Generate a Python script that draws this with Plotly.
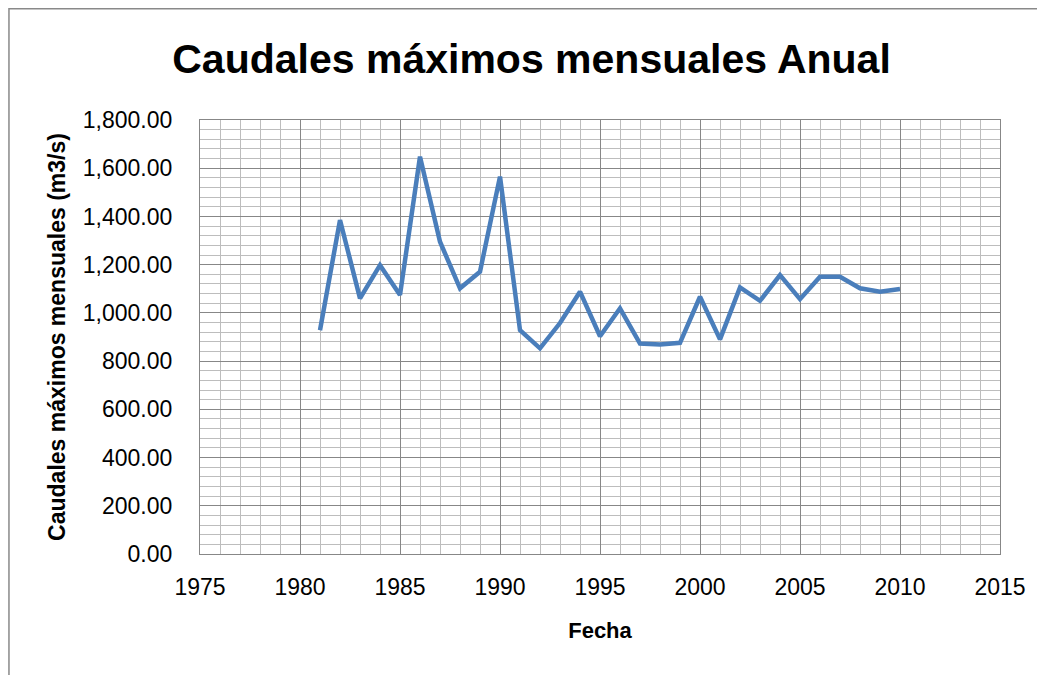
import plotly.graph_objects as go

years = list(range(1981, 2011))
caudales = [928, 1385, 1060, 1198, 1074, 1648, 1295, 1102, 1171, 1565,
            928, 853, 958, 1088, 903, 1019, 873, 869, 876, 1067,
            890, 1106, 1050, 1157, 1057, 1150, 1150, 1102, 1088, 1099]

title_text = "Caudales máximos mensuales Anual"
x_title = "Fecha"
y_title = "Caudales máximos mensuales (m3/s)"

FONT = "Liberation Sans"
MAJOR = "#878787"
MINOR = "#BDBDBD"

fig = go.Figure()
fig.add_trace(go.Scatter(
    x=years, y=caudales, mode="lines",
    line=dict(color="#4A7EBB", width=4.5),
    hoverinfo="x+y", showlegend=False,
))

fig.update_layout(
    width=1045, height=675,
    margin=dict(l=192, r=53, t=112, b=129),
    paper_bgcolor="white", plot_bgcolor="white",
    font=dict(family=FONT, size=23, color="black"),
    title=dict(
        text=title_text, x=0.501, xanchor="center",
        y=0.925, yanchor="middle", yref="container",
        font=dict(family=FONT, size=41, color="black", weight="bold"),
    ),
    xaxis=dict(
        range=[1975, 2015], dtick=5, tick0=1975,
        showgrid=True, gridcolor=MAJOR, gridwidth=1.3,
        minor=dict(dtick=1, showgrid=True, gridcolor=MINOR, gridwidth=1.3),
        showline=True, linecolor=MAJOR, linewidth=1.3, mirror=True,
        ticks="outside", ticklen=12, tickcolor="rgba(0,0,0,0)",
        zeroline=False, automargin=True,
        tickfont=dict(family=FONT, size=23),
        title=dict(text=x_title, standoff=23,
                   font=dict(family=FONT, size=22, weight="bold")),
    ),
    yaxis=dict(
        range=[0, 1800], dtick=200, tick0=0, tickformat=",.2f",
        showgrid=True, gridcolor=MAJOR, gridwidth=1.3,
        minor=dict(dtick=40, showgrid=True, gridcolor=MINOR, gridwidth=1.3),
        showline=True, linecolor=MAJOR, linewidth=1.3, mirror=True,
        ticks="outside", ticklen=22, tickcolor="rgba(0,0,0,0)",
        zeroline=False, automargin=True,
        tickfont=dict(family=FONT, size=23),
        title=dict(text=y_title, standoff=10,
                   font=dict(family=FONT, size=23, weight="bold")),
    ),
    shapes=[dict(
        type="rect", xref="paper", yref="paper",
        x0=-0.2388, x1=1.2, y0=-0.5, y1=1.2563,
        line=dict(color="#898989", width=1.5), fillcolor="rgba(0,0,0,0)",
        layer="below",
    )],
)

fig.write_html("out.html")
